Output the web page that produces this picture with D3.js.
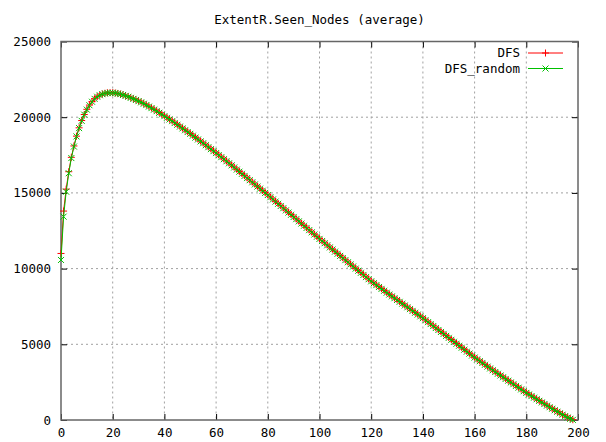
<!DOCTYPE html>
<html>
<head>
<meta charset="utf-8">
<script src="https://cdn.jsdelivr.net/npm/d3@7"></script>
<style>
  body { margin: 0; background: #fff; }
  text { font-family: "DejaVu Sans Mono", "Liberation Mono", monospace; font-size: 12.5px; fill: #000; }
</style>
</head>
<body>
<div id="chart"></div>
<script>
// chart values
const title = 'ExtentR.Seen_Nodes (average)';
const xTicks = [0, 20, 40, 60, 80, 100, 120, 140, 160, 180, 200];
const yTicks = [0, 5000, 10000, 15000, 20000, 25000];
const seriesNames = ['DFS', 'DFS_random'];

const dfs = [
  11000, 13800, 15250, 16400, 17350, 18100, 18750, 19300, 19780, 20180,
  20520, 20800, 21030, 21220, 21360, 21460, 21530, 21580, 21610, 21620,
  21620, 21600, 21570, 21530, 21480, 21420, 21360, 21290, 21220, 21150,
  21080, 21000, 20910, 20820, 20720, 20620, 20520, 20420, 20310, 20200,
  20090, 19980, 19870, 19760, 19640, 19520, 19400, 19280, 19160, 19040,
  18920, 18800, 18670, 18550, 18420, 18300, 18170, 18040, 17910, 17780,
  17650, 17515, 17380, 17245, 17110, 16975, 16840, 16700, 16560, 16420,
  16280, 16140, 16000, 15860, 15720, 15580, 15440, 15300, 15160, 15020,
  14880, 14735, 14590, 14445, 14300, 14155, 14010, 13865, 13720, 13575,
  13430, 13285, 13140, 12995, 12850, 12705, 12560, 12415, 12270, 12125,
  11980, 11840, 11700, 11560, 11420, 11280, 11140, 11000, 10860, 10720,
  10580, 10440, 10300, 10160, 10020, 9880, 9740, 9600, 9460, 9320,
  9180, 9055, 8930, 8805, 8680, 8555, 8430, 8305, 8185, 8065,
  7945, 7825, 7705, 7585, 7465, 7345, 7225, 7105, 6985, 6865,
  6745, 6615, 6485, 6355, 6225, 6095, 5965, 5835, 5705, 5575,
  5445, 5315, 5185, 5055, 4925, 4795, 4665, 4535, 4405, 4275,
  4145, 4025, 3905, 3785, 3665, 3545, 3425, 3305, 3190, 3075,
  2960, 2845, 2730, 2615, 2500, 2385, 2270, 2155, 2040, 1925,
  1810, 1705, 1600, 1495, 1390, 1285, 1180, 1075, 970, 865,
  760, 660, 560, 460, 365, 270, 180, 95, 20
];

const dfsRandom = [
  10570, 13430, 15080, 16300, 17300, 18060, 18730, 19280, 19760, 20170,
  20500, 20790, 21020, 21210, 21350, 21450, 21520, 21570, 21600, 21610,
  21610, 21590, 21560, 21520, 21470, 21410, 21350, 21280, 21210, 21140,
  21060, 20980, 20890, 20800, 20700, 20600, 20500, 20400, 20290, 20180,
  20070, 19960, 19850, 19740, 19620, 19500, 19380, 19260, 19140, 19020,
  18900, 18780, 18650, 18530, 18400, 18280, 18150, 18020, 17890, 17760,
  17630, 17495, 17360, 17225, 17090, 16955, 16820, 16680, 16540, 16400,
  16260, 16120, 15980, 15840, 15700, 15560, 15420, 15280, 15140, 15000,
  14860, 14715, 14570, 14425, 14280, 14135, 13990, 13845, 13700, 13555,
  13410, 13265, 13120, 12975, 12830, 12685, 12540, 12395, 12250, 12105,
  11960, 11820, 11680, 11540, 11400, 11260, 11120, 10980, 10840, 10700,
  10560, 10420, 10280, 10140, 10000, 9860, 9720, 9580, 9440, 9300,
  9160, 9035, 8910, 8785, 8660, 8535, 8410, 8285, 8165, 8045,
  7925, 7805, 7685, 7565, 7445, 7325, 7205, 7085, 6965, 6845,
  6725, 6595, 6465, 6335, 6205, 6075, 5945, 5815, 5685, 5555,
  5425, 5295, 5165, 5035, 4905, 4775, 4645, 4515, 4385, 4255,
  4125, 4005, 3885, 3765, 3645, 3525, 3405, 3285, 3170, 3055,
  2940, 2825, 2710, 2595, 2480, 2365, 2250, 2135, 2020, 1905,
  1790, 1685, 1580, 1475, 1370, 1265, 1160, 1055, 950, 845,
  745, 645, 545, 445, 350, 255, 165, 80, 10
];

const width = 606;
const height = 442;
const plot = {left: 61, right: 578, top: 41.5, bottom: 420};

const svg = d3.select('#chart')
  .append('svg')
    .attr('width', width)
    .attr('height', height);

const x = d3.scaleLinear()
  .domain([0, 200])
  .range([plot.left, plot.right]);

const y = d3.scaleLinear()
  .domain([0, 25000])
  .range([plot.bottom, plot.top]);

// grid
svg.append('g')
  .selectAll('line')
  .data(xTicks.slice(1, -1))
  .enter()
  .append('line')
    .attr('x1', d => x(d)).attr('x2', d => x(d))
    .attr('y1', plot.top).attr('y2', plot.bottom)
    .attr('stroke', '#a0a0a0')
    .attr('stroke-dasharray', '2,3');

svg.append('g')
  .selectAll('line')
  .data(yTicks.slice(1, -1))
  .enter()
  .append('line')
    .attr('y1', d => y(d)).attr('y2', d => y(d))
    .attr('x1', plot.left).attr('x2', plot.right)
    .attr('stroke', '#a0a0a0')
    .attr('stroke-dasharray', '2,3');

// axes (inward ticks, mirrored on top / right)
const tickLen = 6;
const fmt = d3.format('d');
const xAxisB = svg.append('g')
  .attr('transform', 'translate(0,' + plot.bottom + ')')
  .call(d3.axisBottom(x).tickValues(xTicks).tickFormat(fmt).tickSizeInner(-tickLen).tickSizeOuter(0).tickPadding(8));
const xAxisT = svg.append('g')
  .attr('transform', 'translate(0,' + plot.top + ')')
  .call(d3.axisTop(x).tickValues(xTicks).tickSizeInner(-tickLen).tickSizeOuter(0).tickFormat(''));
const yAxisL = svg.append('g')
  .attr('transform', 'translate(' + plot.left + ',0)')
  .call(d3.axisLeft(y).tickValues(yTicks).tickFormat(fmt).tickSizeInner(-tickLen).tickSizeOuter(0).tickPadding(10));
const yAxisR = svg.append('g')
  .attr('transform', 'translate(' + plot.right + ',0)')
  .call(d3.axisRight(y).tickValues(yTicks).tickSizeInner(-tickLen).tickSizeOuter(0).tickFormat(''));

[xAxisB, xAxisT, yAxisL, yAxisR].forEach(a => {
  a.select('.domain').remove();
  a.selectAll('line').attr('stroke', '#000');
  a.selectAll('text')
    .attr('font-family', null)
    .attr('font-size', null)
    .style('fill', '#000');
});

// border
svg.append('rect')
  .attr('x', plot.left).attr('y', plot.top)
  .attr('width', plot.right - plot.left)
  .attr('height', plot.bottom - plot.top)
  .attr('fill', 'none')
  .attr('stroke', '#666')
  .attr('stroke-width', 1.5);

// title
svg.append('text')
  .attr('x', (plot.left + plot.right) / 2)
  .attr('y', 24)
  .attr('text-anchor', 'middle')
  .text(title);

// series
const plusPath = 'M-3.5,0H3.5M0,-3.5V3.5';
const crossPath = 'M-3,-3L3,3M-3,3L3,-3';
const series = [
  {name: seriesNames[0], values: dfs, color: '#ff0000', marker: plusPath},
  {name: seriesNames[1], values: dfsRandom, color: '#00c000', marker: crossPath}
];

const line = d3.line()
  .x((d, i) => x(i))
  .y(d => y(d));

series.forEach((s, k) => {
  const g = svg.append('g');
  g.append('path')
    .datum(s.values)
    .attr('d', line)
    .attr('fill', 'none')
    .attr('stroke', s.color)
    .attr('stroke-width', 1);
  g.selectAll('path.pt')
    .data(s.values)
    .enter()
    .append('path')
      .attr('class', 'pt')
      .attr('d', s.marker)
      .attr('transform', (d, i) => 'translate(' + x(i) + ',' + y(d) + ')')
      .attr('stroke', s.color)
      .attr('stroke-width', 1)
      .attr('fill', 'none');

  // legend entry
  const ly = 53 + k * 15.5;
  svg.append('text')
    .attr('x', 520)
    .attr('y', ly)
    .attr('dy', '0.35em')
    .attr('text-anchor', 'end')
    .text(s.name);
  svg.append('line')
    .attr('x1', 528).attr('x2', 563)
    .attr('y1', ly).attr('y2', ly)
    .attr('stroke', s.color);
  svg.append('path')
    .attr('d', s.marker)
    .attr('transform', 'translate(545.5,' + ly + ')')
    .attr('stroke', s.color)
    .attr('fill', 'none');
});
</script>
</body>
</html>
